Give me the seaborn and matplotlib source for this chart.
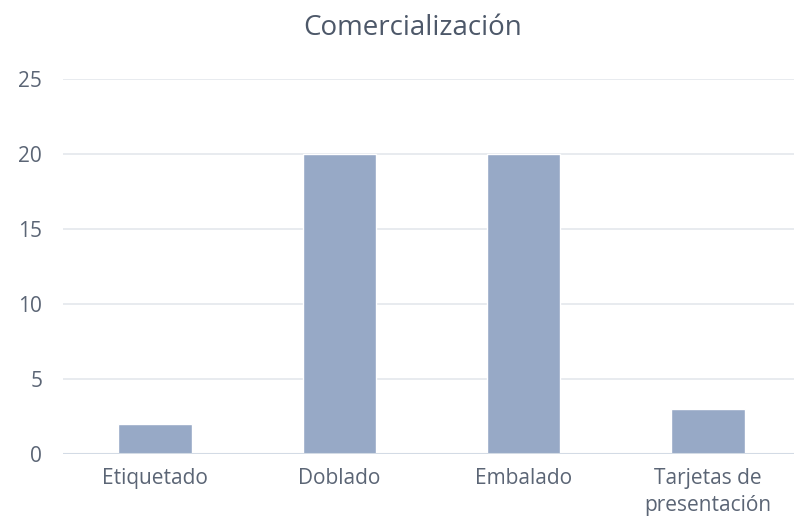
import matplotlib
matplotlib.use("Agg")
import matplotlib.pyplot as plt
import seaborn as sns
import pandas as pd

categories = ["Etiquetado", "Doblado", "Embalado", "Tarjetas de\npresentación"]
values = [2, 20, 20, 3]
yticks = [0, 5, 10, 15, 20, 25]
title = "Comercialización"

sns.set_theme(style="white")
plt.rcParams['font.family'] = ['Open Sans', 'DejaVu Sans']

df = pd.DataFrame({"cat": categories, "val": values})

fig = plt.figure(figsize=(7.94, 5.19), dpi=100)
ax = fig.add_axes([63/794, 65/519, 737/794, 375/519])
sns.barplot(data=df, x="cat", y="val", color="#97a9c6", saturation=1, width=0.4, ax=ax, zorder=3)
ax.set_xlim(-0.5, 3.5)
ax.set_ylim(0, 25)
ax.set_yticks(yticks)
ax.set_xlabel("")
ax.set_ylabel("")
for s in ax.spines.values():
    s.set_visible(False)
ax.grid(axis="y", color="#e4e7ec", linewidth=1.2, zorder=0)
ax.axhline(0, color="#d3dbe5", linewidth=1.5, zorder=4)
ax.tick_params(axis="both", length=0, labelsize=15, labelcolor="#5b6575")
ax.tick_params(axis="y", pad=15)
ax.tick_params(axis="x", pad=10)
for lbl in ax.get_xticklabels():
    lbl.set_linespacing(1.4)
fig.text(413/794, 1 - 28/519, title, ha="center", va="center", fontsize=20, color="#4d5869")
fig.savefig("out.png", dpi=100)
